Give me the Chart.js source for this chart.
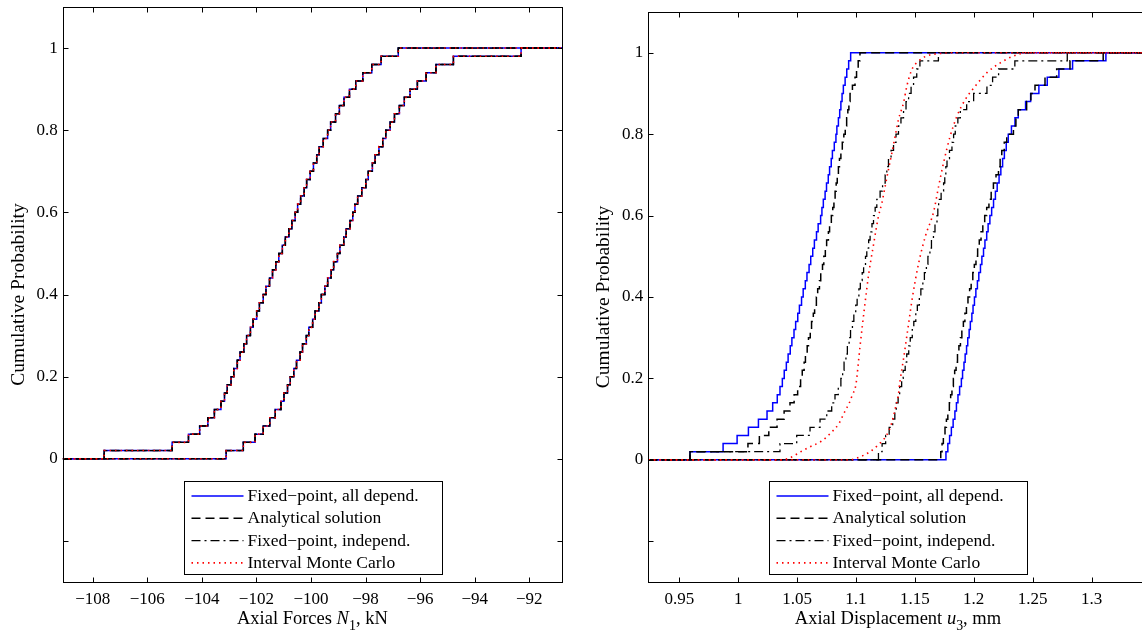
<!DOCTYPE html>
<html>
<head>
<meta charset="utf-8">
<title>Cumulative probability of axial force and displacement</title>
<script src="https://cdn.jsdelivr.net/npm/chart.js@4.4.1/dist/chart.umd.min.js"></script>
<style>
  html, body { margin: 0; padding: 0; background: #fff; overflow: hidden; }
  #wrap { position: relative; width: 1142px; height: 634px; overflow: hidden; }
  .panel { position: absolute; top: 0; width: 575px; height: 634px; }
  #left { left: 0; }
  #right { left: 585px; }
</style>
</head>
<body>
<div id="wrap">
  <div class="panel" id="left"><canvas id="forceChart"></canvas></div>
  <div class="panel" id="right"><canvas id="dispChart"></canvas></div>
</div>
<script>
"use strict"

// legend / series names
const seriesNames = ["Fixed\u2212point, all depend.", "Analytical solution",
  "Fixed\u2212point, independ.", "Interval Monte Carlo"];

const probTicks = [-0.2, 0, 0.2, 0.4, 0.6, 0.8, 1];

// left panel: axial force N1 in kN, 50 sorted samples (all methods coincide)
const forceTicks = [-108, -106, -104, -102, -100, -98, -96, -94, -92];
const forceUpper = [-107.58, -105.09, -104.49, -104.08, -103.78, -103.54, -103.30, -103.17, -103.07, -102.93,
  -102.83, -102.70, -102.60, -102.46, -102.36, -102.22, -102.12, -101.99, -101.89, -101.75,
  -101.65, -101.52, -101.41, -101.29, -101.18, -101.05, -100.94, -100.81, -100.70, -100.58,
  -100.49, -100.38, -100.25, -100.16, -100.03, -99.91, -99.79, -99.70, -99.55, -99.39,
  -99.28, -99.10, -98.96, -98.79, -98.59, -98.36, -98.10, -97.77, -97.43, -96.80];
const forceLower = [-103.11, -102.48, -102.05, -101.75, -101.51, -101.31, -101.10, -100.99, -100.86, -100.76,
  -100.63, -100.53, -100.40, -100.31, -100.17, -100.08, -99.94, -99.85, -99.71, -99.62,
  -99.49, -99.39, -99.26, -99.17, -99.03, -98.94, -98.80, -98.71, -98.57, -98.47,
  -98.39, -98.29, -98.14, -97.99, -97.90, -97.75, -97.65, -97.51, -97.37, -97.26,
  -97.10, -96.94, -96.76, -96.58, -96.37, -96.10, -95.78, -95.42, -94.78, -92.30];

// right panel: axial displacement u3 in mm
const dispTicks = [0.95, 1, 1.05, 1.1, 1.15, 1.2, 1.25, 1.3];
const fpDepLeft = [0.9591, 0.9872, 0.9991, 1.0087, 1.0172, 1.0245, 1.0293, 1.0332, 1.0355, 1.0375,
  1.0391, 1.0409, 1.0424, 1.0442, 1.0456, 1.0474, 1.0488, 1.0506, 1.0520, 1.0538,
  1.0552, 1.0570, 1.0584, 1.0602, 1.0616, 1.0633, 1.0647, 1.0665, 1.0679, 1.0700,
  1.0711, 1.0723, 1.0738, 1.0750, 1.0765, 1.0776, 1.0790, 1.0800, 1.0816, 1.0830,
  1.0838, 1.0851, 1.0862, 1.0872, 1.0882, 1.0893, 1.0908, 1.0922, 1.0938, 1.0955];
const fpDepRight = [1.1764, 1.1780, 1.1795, 1.1810, 1.1825, 1.1840, 1.1853, 1.1866, 1.1880, 1.1895,
  1.1905, 1.1917, 1.1927, 1.1939, 1.1949, 1.1961, 1.1971, 1.1984, 1.1994, 1.2006,
  1.2018, 1.2031, 1.2043, 1.2057, 1.2069, 1.2083, 1.2095, 1.2110, 1.2122, 1.2137,
  1.2152, 1.2168, 1.2184, 1.2199, 1.2215, 1.2230, 1.2245, 1.2260, 1.2276, 1.2293,
  1.2320, 1.2350, 1.2378, 1.2440, 1.2483, 1.2553, 1.2624, 1.2723, 1.2839, 1.3122];
const anaLeft = [0.9591, 1.0083, 1.0180, 1.0260, 1.0330, 1.0390, 1.0440, 1.0475, 1.0505, 1.0530,
  1.0544, 1.0560, 1.0571, 1.0586, 1.0597, 1.0612, 1.0623, 1.0638, 1.0649, 1.0664,
  1.0675, 1.0690, 1.0701, 1.0716, 1.0727, 1.0740, 1.0751, 1.0766, 1.0776, 1.0791,
  1.0803, 1.0813, 1.0823, 1.0832, 1.0841, 1.0851, 1.0860, 1.0872, 1.0884, 1.0897,
  1.0909, 1.0921, 1.0931, 1.0940, 1.0950, 1.0970, 1.0992, 1.1005, 1.1019, 1.1034];
const anaRight = [1.1720, 1.1731, 1.1742, 1.1756, 1.1768, 1.1780, 1.1793, 1.1804, 1.1815, 1.1827,
  1.1838, 1.1850, 1.1862, 1.1874, 1.1887, 1.1899, 1.1912, 1.1925, 1.1938, 1.1951,
  1.1965, 1.1978, 1.1992, 1.2005, 1.2019, 1.2033, 1.2047, 1.2062, 1.2077, 1.2093,
  1.2110, 1.2129, 1.2148, 1.2167, 1.2189, 1.2210, 1.2224, 1.2238, 1.2259, 1.2280,
  1.2337, 1.2358, 1.2378, 1.2449, 1.2485, 1.2520, 1.2605, 1.2704, 1.2817, 1.3099];
const fpIndLeft = [0.9591, 1.0355, 1.0497, 1.0610, 1.0695, 1.0752, 1.0794, 1.0822, 1.0850, 1.0872,
  1.0887, 1.0899, 1.0915, 1.0927, 1.0942, 1.0954, 1.0970, 1.0982, 1.0998, 1.1010,
  1.1025, 1.1037, 1.1053, 1.1065, 1.1081, 1.1092, 1.1108, 1.1120, 1.1136, 1.1149,
  1.1163, 1.1177, 1.1205, 1.1226, 1.1248, 1.1262, 1.1276, 1.1298, 1.1319, 1.1340,
  1.1361, 1.1382, 1.1404, 1.1425, 1.1447, 1.1468, 1.1489, 1.1516, 1.1543, 1.1700];
const fpIndRight = [1.1191, 1.1222, 1.1252, 1.1282, 1.1312, 1.1330, 1.1342, 1.1358, 1.1371, 1.1388,
  1.1401, 1.1418, 1.1431, 1.1448, 1.1461, 1.1478, 1.1491, 1.1508, 1.1521, 1.1538,
  1.1551, 1.1568, 1.1581, 1.1598, 1.1611, 1.1628, 1.1641, 1.1658, 1.1671, 1.1688,
  1.1695, 1.1702, 1.1723, 1.1744, 1.1754, 1.1763, 1.1773, 1.1794, 1.1815, 1.1829,
  1.1843, 1.1865, 1.1886, 1.1940, 1.1999, 1.2112, 1.2160, 1.2211, 1.2349, 1.2794];
// Monte Carlo curves are smooth (many samples): x and probability pairs
const mcLeftX = [1.0350, 1.0432, 1.0531, 1.0616, 1.0702, 1.0786, 1.0857, 1.0899, 1.0942, 1.0970,
  1.0999, 1.1035, 1.1075, 1.1110, 1.1150, 1.1191, 1.1220, 1.1248, 1.1276, 1.1305,
  1.1333, 1.1361, 1.1404, 1.1432, 1.1475, 1.1531, 1.1600, 1.1714, 1.1850];
const mcLeftP = [0, 0.004, 0.020, 0.033, 0.045, 0.066, 0.090, 0.115, 0.139, 0.160,
  0.184, 0.28, 0.38, 0.46, 0.53, 0.598, 0.631, 0.672, 0.713, 0.754,
  0.795, 0.836, 0.877, 0.918, 0.959, 0.979, 0.992, 0.998, 1.0];
const mcRightX = [1.0949, 1.1006, 1.1119, 1.1190, 1.1261, 1.1303, 1.1331, 1.1360, 1.1374, 1.1405,
  1.1430, 1.1480, 1.1530, 1.1590, 1.1660, 1.1702, 1.1744, 1.1800, 1.1857, 1.1928,
  1.2013, 1.2112, 1.2225, 1.2338, 1.2450];
const mcRightP = [0, 0.004, 0.020, 0.037, 0.061, 0.090, 0.123, 0.160, 0.193, 0.25,
  0.30, 0.40, 0.48, 0.55, 0.61, 0.672, 0.730, 0.795, 0.844, 0.885,
  0.918, 0.951, 0.975, 0.992, 1.0];

const FONT = '"Liberation Serif", "Times New Roman", serif';
Chart.defaults.font.family = FONT;
Chart.defaults.color = '#000';

const styles = [
  { color: '#0000ff', dash: [], width: 1.5 },
  { color: '#000000', dash: [9, 5], width: 1.5 },
  { color: '#000000', dash: [9, 4, 2, 4], width: 1.3 },
  { color: '#ff0000', dash: [1.5, 4], width: 1.6 },
];

function ecdf(samples, xmin, xmax) {
  const n = samples.length;
  return [{ x: xmin, y: 0 }]
    .concat(samples.map((v, i) => ({ x: v, y: (i + 1) / n })), [{ x: xmax, y: 1 }]);
}

function curve(xs, ps, xmin, xmax) {
  return [{ x: xmin, y: 0 }]
    .concat(xs.map((v, i) => ({ x: v, y: ps[i] })), [{ x: xmax, y: 1 }]);
}

function makeSet(data, m, stepped, first) {
  return {
    label: first ? seriesNames[m] : '',
    data: data,
    borderColor: styles[m].color,
    borderDash: styles[m].dash,
    borderWidth: styles[m].width,
    stepped: stepped ? 'before' : false,
    cubicInterpolationMode: stepped ? 'default' : 'monotone',
    pointRadius: 0,
    fill: false,
    order: 4 - m,
  };
}

// draws text parts (normal / italic / subscript) centred on cx
function drawRich(ctx, parts, cx, cy, size) {
  const fonts = parts.map(p => (p.it ? 'italic ' : '') + (p.sub ? size * 0.75 : size) + 'px ' + FONT);
  let total = 0;
  const widths = parts.map((p, i) => { ctx.font = fonts[i]; const w = ctx.measureText(p.t).width; total += w; return w; });
  let x = cx - total / 2;
  ctx.textAlign = 'left';
  ctx.textBaseline = 'middle';
  parts.forEach((p, i) => {
    ctx.font = fonts[i];
    ctx.fillText(p.t, x, p.sub ? cy + size * 0.38 : cy);
    x += widths[i];
  });
}

const framePlugin = {
  id: 'frame',
  afterDraw(chart, args, opts) {
    const { ctx, chartArea: a, scales: { x, y } } = chart;
    const L = Math.round(a.left) + 0.5, R = Math.round(a.right) + 0.5;
    const T = Math.round(a.top) + 0.5, B = Math.round(a.bottom) + 0.5;
    ctx.save();
    ctx.strokeStyle = '#000';
    ctx.lineWidth = 1;
    ctx.setLineDash([]);
    ctx.strokeRect(L, T, R - L, B - T);
    ctx.beginPath();
    x.ticks.forEach(t => {
      const px = Math.round(x.getPixelForValue(t.value)) + 0.5;
      ctx.moveTo(px, B); ctx.lineTo(px, B - 5);
      ctx.moveTo(px, T); ctx.lineTo(px, T + 5);
    });
    y.ticks.forEach(t => {
      const py = Math.round(y.getPixelForValue(t.value)) + 0.5;
      ctx.moveTo(L, py); ctx.lineTo(L + 5, py);
      ctx.moveTo(R, py); ctx.lineTo(R - 5, py);
    });
    ctx.stroke();

    // axis titles
    ctx.fillStyle = '#000';
    drawRich(ctx, opts.xTitle, (a.left + a.right) / 2, 619, 18.5);
    ctx.save();
    ctx.translate(18.5, (a.top + a.bottom) / 2);
    ctx.rotate(-Math.PI / 2);
    drawRich(ctx, [{ t: 'Cumulative Probability' }], 0, 0, 19.5);
    ctx.restore();

    // legend box
    const bx = Math.round(a.left + 121) + 0.5, by = 481.5, bw = 258, bh = 93;
    ctx.fillStyle = '#fff';
    ctx.fillRect(bx, by, bw, bh);
    ctx.strokeRect(bx, by, bw, bh);
    const firsts = chart.data.datasets.filter(d => d.label);
    firsts.forEach((d, i) => {
      const yy = by + 14.5 + i * 22.3;
      ctx.beginPath();
      ctx.strokeStyle = d.borderColor;
      ctx.lineWidth = d.borderWidth;
      ctx.setLineDash(d.borderDash);
      ctx.moveTo(bx + 7, yy);
      ctx.lineTo(bx + 59, yy);
      ctx.stroke();
      ctx.setLineDash([]);
      ctx.fillStyle = '#000';
      ctx.font = '17.5px ' + FONT;
      ctx.textAlign = 'left';
      ctx.textBaseline = 'middle';
      ctx.fillText(d.label, bx + 63, yy + 0.5);
    });
    ctx.restore();
  }
};

function createChart(id, datasets, xmin, xmax, xTicks, fmtX, xTitle, top, right) {
  return new Chart(document.getElementById(id), {
    type: 'line',
    data: { datasets: datasets },
    plugins: [framePlugin],
    options: {
      responsive: true,
      maintainAspectRatio: false,
      animation: false,
      layout: { padding: { top: top, right: right, left: 0, bottom: 0 } },
      plugins: {
        legend: { display: false },
        tooltip: { enabled: false },
        frame: { xTitle: xTitle },
      },
      scales: {
        x: {
          type: 'linear',
          min: xmin,
          max: xmax,
          afterBuildTicks: s => { s.ticks = xTicks.map(v => ({ value: v })); },
          afterFit: s => { s.height = 52; s.paddingLeft = 0; s.paddingRight = 0; },
          grid: { display: false, drawTicks: false },
          border: { display: false },
          ticks: { autoSkip: false, maxRotation: 0, padding: 7, font: { size: 17 }, callback: fmtX },
        },
        y: {
          type: 'linear',
          min: -0.3,
          max: 1.1,
          afterBuildTicks: s => { s.ticks = probTicks.map(v => ({ value: v })); },
          afterFit: s => {
            s.width = id === 'forceChart' ? 62.7 : 63.3;
            s.paddingTop = 0;
            s.paddingBottom = 0;
          },
          grid: { display: false, drawTicks: false },
          border: { display: false },
          ticks: { autoSkip: false, padding: 5, font: { size: 17 }, callback: v => (v < 0 ? '' : String(v)) },
        },
      },
    },
  });
}

// left panel
const fMin = -109.1, fMax = -90.8;
const forceSets = [];
for (let m = 0; m < 4; m++) {
  forceSets.push(makeSet(ecdf(forceUpper, fMin, fMax), m, true, true));
  forceSets.push(makeSet(ecdf(forceLower, fMin, fMax), m, true, false));
}
createChart('forceChart', forceSets, fMin, fMax, forceTicks,
  v => (v < 0 ? '\u2212' + Math.abs(v) : String(v)),
  [{ t: 'Axial Forces ' }, { t: 'N', it: true }, { t: '1', sub: true }, { t: ', kN' }], 7, 13);

// right panel
const dMin = 0.9237, dMax = 1.3476;
const dispSets = [
  makeSet(ecdf(fpDepLeft, dMin, dMax), 0, true, true),
  makeSet(ecdf(fpDepRight, dMin, dMax), 0, true, false),
  makeSet(ecdf(anaLeft, dMin, dMax), 1, true, true),
  makeSet(ecdf(anaRight, dMin, dMax), 1, true, false),
  makeSet(ecdf(fpIndLeft, dMin, dMax), 2, true, true),
  makeSet(ecdf(fpIndRight, dMin, dMax), 2, true, false),
  makeSet(curve(mcLeftX, mcLeftP, dMin, dMax), 3, false, true),
  makeSet(curve(mcRightX, mcRightP, dMin, dMax), 3, false, false),
];
createChart('dispChart', dispSets, dMin, dMax, dispTicks, v => String(v),
  [{ t: 'Axial Displacement ' }, { t: 'u', it: true }, { t: '3', sub: true }, { t: ', mm' }], 12, 12.4);
</script>
</body>
</html>
